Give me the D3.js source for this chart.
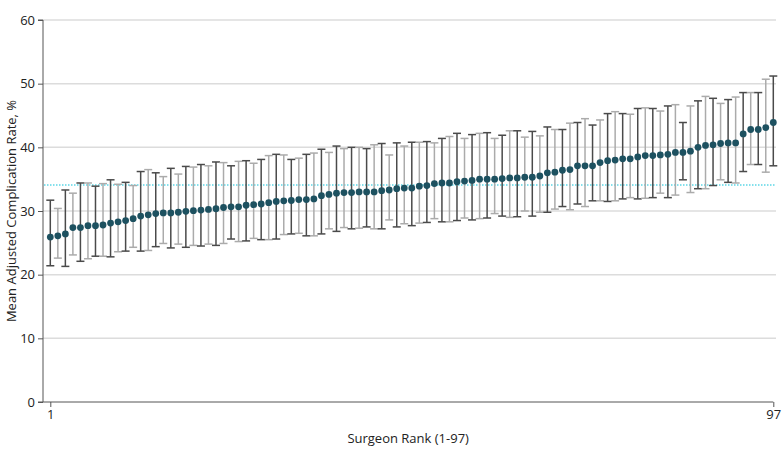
<!DOCTYPE html>
<html>
<head>
<meta charset="utf-8">
<script src="https://cdn.jsdelivr.net/npm/d3@7"></script>
<style>
  html, body { margin: 0; padding: 0; background: #fff; }
  svg { display: block; font-family: "Open Sans", "Noto Sans", sans-serif; }
</style>
</head>
<body>
<svg id="chart" width="783" height="459"></svg>
<script>
// ---- Data ----
const ranks = d3.range(1, 98);
const means = [
  25.9, 26.1, 26.4, 27.4, 27.4, 27.7, 27.7, 27.8, 28.1, 28.3, 28.5, 28.8, 29.2, 29.4, 29.6, 29.7, 29.7, 29.8, 29.95, 30.05, 30.15, 30.25, 30.35, 30.55, 30.65, 30.65, 30.9, 31.0,
  31.1, 31.3, 31.5,
  31.6, 31.65, 31.8, 31.8, 31.9, 32.4, 32.6, 32.8, 32.9, 32.9, 33.0, 33.0, 33.0, 33.2, 33.3, 33.5, 33.6,
  33.6, 33.9, 34.0, 34.3, 34.4, 34.4, 34.6, 34.7, 34.8, 35.0, 35.0, 35.0, 35.1, 35.2, 35.2, 35.3,
  35.3, 35.5, 36.0, 36.1, 36.4, 36.5, 37.1, 37.1, 37.1, 37.6, 37.9, 38.0, 38.2, 38.2, 38.5, 38.7,
  38.7, 38.8, 38.9, 39.2, 39.2, 39.4, 40.0, 40.3, 40.4, 40.6, 40.7, 40.7, 42.1, 42.8, 42.8, 43.1, 43.9
];
const uppers = [
  31.7, 30.4, 33.3, 32.8, 34.4, 34.4, 33.9, 34.3, 34.9, 34.2, 34.5, 34.0, 36.2, 36.5, 36.0, 35.4, 36.7, 35.8, 37.0, 36.9, 37.3, 37.1, 37.7, 37.6, 37.1, 37.8, 37.9, 37.5,
  38.1, 38.7, 38.9,
  38.8, 38.1, 38.3, 38.9, 39.1, 39.7, 39.2, 40.2, 39.8, 40.0, 40.0, 39.8, 40.4, 40.6, 38.8, 40.7, 40.2,
  40.8, 40.8, 40.9, 40.7, 41.4, 41.7, 42.2, 41.4, 42.0, 42.2, 42.3, 41.4, 41.9, 42.6, 42.6, 41.6,
  42.5, 41.8, 43.2, 42.8, 42.8, 43.8, 43.9, 44.5, 43.5, 44.3, 45.3, 45.6, 45.3, 45.2, 46.1, 46.2,
  46.1, 45.7, 46.5, 46.7, 43.9, 46.5, 47.3, 48.0, 47.7, 46.9, 47.5, 47.9, 48.6, 48.6, 48.6, 50.7, 51.2
];
const lowers = [
  21.4, 22.6, 21.3, 23.1, 22.1, 22.5, 22.9, 22.9, 22.8, 23.6, 23.7, 24.3, 23.7, 23.8, 24.4, 24.9, 24.2, 24.8, 24.3, 24.6, 24.5, 24.8, 24.6, 24.9, 25.6, 25.2, 25.3, 25.7,
  25.5, 25.5, 25.6,
  26.3, 26.4, 26.5, 26.1, 26.1, 26.4, 27.2, 26.8, 27.4, 27.2, 27.3, 27.5, 27.2, 27.2, 28.6, 27.5, 28.0,
  27.7, 28.1, 28.2, 28.8, 28.3, 28.3, 28.5, 28.9, 28.6, 28.8, 28.9, 29.6, 29.2, 29.0, 29.1, 30.0,
  29.2, 29.8, 29.8, 30.3, 30.7, 30.2, 31.1, 30.7, 31.6, 31.6, 31.5, 31.6, 31.9, 32.1, 31.9, 32.0,
  32.1, 32.8, 32.1, 32.5, 34.9, 32.9, 33.5, 33.5, 34.0, 34.9, 34.5, 34.4, 36.2, 37.3, 37.3, 36.1, 37.1
];
const overallMean = 34.1;
const yTicks = [0, 10, 20, 30, 40, 50, 60];
const xTicks = [1, 97];
const xTitle = "Surgeon Rank (1-97)";
const yTitle = "Mean Adjusted Complication Rate, %";

// ---- Layout ----
const svg = d3.select("#chart");
const mLeft = 43, mRight = 776, mTop = 20, mBottom = 402;
const x = d3.scaleLinear().domain([1, 97]).range([50.3, 773.3]);
const y = d3.scaleLinear().domain([0, 60]).range([mBottom, mTop]);

const data = ranks.map((r, i) => ({ rank: r, mean: means[i], lo: lowers[i], hi: uppers[i] }));

// gridlines
svg.append("g").selectAll("line")
  .data(yTicks.filter(t => t > 0))
  .join("line")
  .attr("x1", mLeft).attr("x2", mRight)
  .attr("y1", d => y(d)).attr("y2", d => y(d))
  .attr("stroke", "#dcdcdc").attr("stroke-width", 1.5);

// overall mean dotted line
svg.append("line")
  .attr("x1", mLeft + 1).attr("x2", mRight)
  .attr("y1", y(overallMean)).attr("y2", y(overallMean))
  .attr("stroke", "#5cd6e6").attr("stroke-width", 1.5)
  .attr("stroke-dasharray", "1.5,1.5");

// y axis
const yAxis = d3.axisLeft(y).tickValues(yTicks).tickSize(5).tickPadding(3);
const gy = svg.append("g").attr("transform", `translate(${mLeft},0)`).call(yAxis);
gy.select(".domain").attr("stroke", "#555").attr("d", `M-5,${mTop}H0V${mBottom}H-5`);
gy.selectAll(".tick line").attr("stroke", "#555");
gy.selectAll(".tick text").attr("fill", "#222").style("font-size", "13px")
  .style("font-family", '"Open Sans", "Noto Sans", sans-serif');

// x axis
const xAxis = d3.axisBottom(x).tickValues(xTicks).tickSize(5).tickPadding(3);
const gx = svg.append("g").attr("transform", `translate(0,${mBottom})`).call(xAxis);
gx.select(".domain").attr("stroke", "#555").attr("d", `M${mLeft},0H${x(97)}`);
gx.selectAll(".tick line").attr("stroke", "#555");
gx.selectAll(".tick text").attr("fill", "#222").style("font-size", "13px")
  .style("font-family", '"Open Sans", "Noto Sans", sans-serif');

// error bars
const capW = 4;
const bars = svg.append("g").selectAll("g").data(data).join("g")
  .attr("stroke", d => d.rank % 2 === 1 ? "#4a4a4a" : "#ababab")
  .attr("stroke-width", 1.5);
bars.append("line")
  .attr("x1", d => x(d.rank)).attr("x2", d => x(d.rank))
  .attr("y1", d => y(d.lo)).attr("y2", d => y(d.hi));
bars.append("line")
  .attr("x1", d => x(d.rank) - capW).attr("x2", d => x(d.rank) + capW)
  .attr("y1", d => y(d.hi)).attr("y2", d => y(d.hi));
bars.append("line")
  .attr("x1", d => x(d.rank) - capW).attr("x2", d => x(d.rank) + capW)
  .attr("y1", d => y(d.lo)).attr("y2", d => y(d.lo));

// points
svg.append("g").selectAll("circle").data(data).join("circle")
  .attr("cx", d => x(d.rank)).attr("cy", d => y(d.mean))
  .attr("r", 3.4).attr("fill", "#1d5160");

// axis titles
svg.append("text")
  .attr("x", (mLeft + x(97)) / 2).attr("y", 443)
  .attr("text-anchor", "middle").attr("fill", "#222")
  .style("font-size", "13px").text(xTitle);
svg.append("text")
  .attr("transform", `translate(16,${(mTop + mBottom) / 2}) rotate(-90)`)
  .attr("text-anchor", "middle").attr("fill", "#222")
  .style("font-size", "13px").text(yTitle);
</script>
</body>
</html>
